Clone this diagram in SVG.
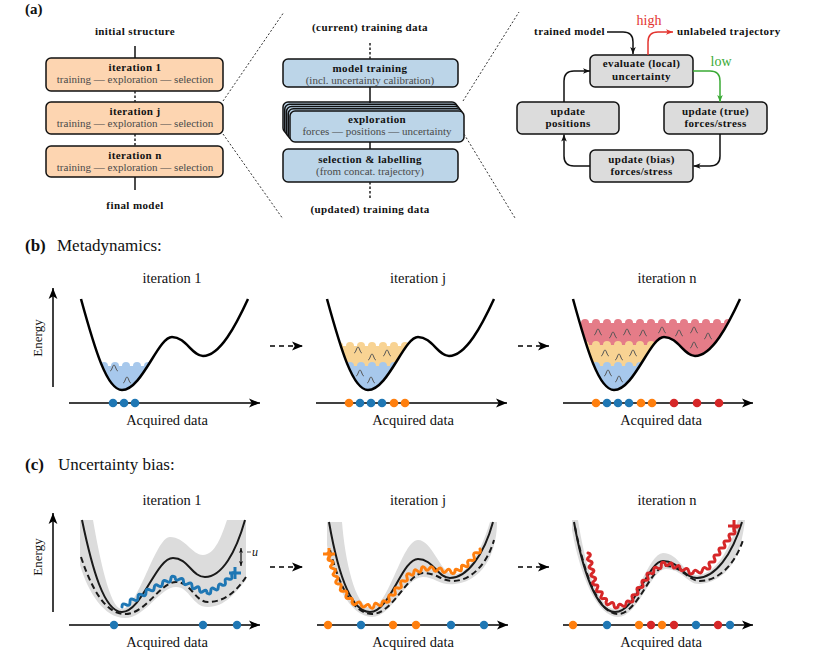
<svg xmlns="http://www.w3.org/2000/svg" width="831" height="652" viewBox="0 0 831 652" font-family="'Liberation Serif', 'Times New Roman', serif">
<style>
text{font-family:"Liberation Serif","Times New Roman",serif;fill:#111}
.hb{font-weight:bold;font-size:11px;letter-spacing:0.4px}
.sub{font-size:11px;fill:#4a4a4a}
.box{stroke:#111;stroke-width:1.5}
.orange{fill:#fdd5b1}
.blue{fill:#bcd5e8}
.gray{fill:#dcdcdc}
.conn{fill:none;stroke:#111;stroke-width:1.5}
.dotl{fill:none;stroke:#222;stroke-width:1.5;stroke-dasharray:2.5 2}
.zoom{fill:none;stroke:#333;stroke-width:1;stroke-dasharray:2 2}
.secb{font-size:17px;font-weight:bold}
.sec{font-size:17px}
.lbl{font-size:14.5px}
.pes{fill:none;stroke:#000;stroke-width:2.5;stroke-linejoin:round}
.sol{fill:none;stroke:#1a1a1a;stroke-width:2}
.dash{fill:none;stroke:#1a1a1a;stroke-width:2;stroke-dasharray:6 3.5}
.band{fill:#dcdcdc}
.axis{fill:none;stroke:#000;stroke-width:1.5}
.darr{fill:none;stroke:#000;stroke-width:1.5;stroke-dasharray:5 4}
.wig{fill:none;stroke-width:3;stroke-linejoin:round;stroke-linecap:round}
.gs{fill:none;stroke:#555;stroke-width:1}
.cb{fill:#1f77b4}.co{fill:#ff7f0e}.cr{fill:#d62728}
.fb{fill:#a7c8ec}.fo{fill:#f8d393}.fr{fill:#e57c88}
</style>
<defs>
<marker id="ah" viewBox="0 0 10 10" refX="10" refY="5" markerWidth="7" markerHeight="7" markerUnits="userSpaceOnUse" orient="auto-start-reverse"><path d="M0,1 L10,5 L0,9 L2.5,5 Z" fill="#111"/></marker>
<marker id="ahr" viewBox="0 0 10 10" refX="10" refY="5" markerWidth="7" markerHeight="7" markerUnits="userSpaceOnUse" orient="auto"><path d="M0,1 L10,5 L0,9 L2.5,5 Z" fill="#e3342f"/></marker>
<marker id="ahg" viewBox="0 0 10 10" refX="10" refY="5" markerWidth="7" markerHeight="7" markerUnits="userSpaceOnUse" orient="auto"><path d="M0,1 L10,5 L0,9 L2.5,5 Z" fill="#3aaa35"/></marker>
<marker id="ax" viewBox="0 0 10 10" refX="10" refY="5" markerWidth="11" markerHeight="11" markerUnits="userSpaceOnUse" orient="auto"><path d="M0,1 L10,5 L0,9 L2.5,5 Z" fill="#000"/></marker>
<marker id="us" viewBox="0 0 10 10" refX="10" refY="5" markerWidth="5" markerHeight="5" markerUnits="userSpaceOnUse" orient="auto-start-reverse"><path d="M0,1 L10,5 L0,9 L2.5,5 Z" fill="#111"/></marker>
<clipPath id="well" clipPathUnits="userSpaceOnUse"><path d="M81,299 C95,350 107,390 122,390 C142,390 158,337 172,337 C186,337 192,356 203,356 C220,356 236,325 248,299 Z"/></clipPath>
<path id="pes" d="M81,299 C95,350 107,390 122,390 C142,390 158,337 172,337 C186,337 192,356 203,356 C220,356 236,325 248,299"/>
<path id="gsn" d="M-4,3 C-2,3 -1.5,-3 0,-3 C1.5,-3 2,3 4,3"/>
</defs>

<!-- ===== (a) ===== -->
<text x="25" y="14" style="font-size:15px;font-weight:bold">(a)</text>
<g id="a-labels">
<text class="hb" x="135" y="35" text-anchor="middle">initial structure</text>
<text class="hb" x="135" y="209" text-anchor="middle">final model</text>
<text class="hb" x="370" y="31" text-anchor="middle">(current) training data</text>
<text class="hb" x="370" y="213" text-anchor="middle">(updated) training data</text>
<text class="hb" x="605" y="35" text-anchor="end">trained model</text>
<text class="hb" x="677" y="35">unlabeled trajectory</text>
<text x="649" y="25" text-anchor="middle" style="font-size:14px;fill:#e3342f">high</text>
<text x="721" y="66" text-anchor="middle" style="font-size:14px;fill:#3aaa35">low</text>
</g>

<g id="iter1">
<rect class="box orange" x="46" y="58" width="177" height="33" rx="5"/>
<text class="hb" x="135" y="71" text-anchor="middle">iteration 1</text>
<text class="sub" x="135" y="83" text-anchor="middle">training — exploration — selection</text>
</g>
<g id="iterj">
<rect class="box orange" x="46" y="102" width="177" height="32" rx="5"/>
<text class="hb" x="135" y="115" text-anchor="middle">iteration j</text>
<text class="sub" x="135" y="127" text-anchor="middle">training — exploration — selection</text>
</g>
<g id="itern">
<rect class="box orange" x="46" y="146" width="177" height="31" rx="5"/>
<text class="hb" x="135" y="158.5" text-anchor="middle">iteration n</text>
<text class="sub" x="135" y="170.5" text-anchor="middle">training — exploration — selection</text>
</g>

<g id="model-training">
<rect class="box blue" x="283" y="59" width="175" height="28" rx="5"/>
<text class="hb" x="370" y="72" text-anchor="middle">model training</text>
<text class="sub" x="370" y="84" text-anchor="middle">(incl. uncertainty calibration)</text>
</g>
<g id="exploration">
<rect class="box blue" x="283" y="102" width="174" height="31" rx="5"/>
<rect class="box blue" x="284.75" y="104.25" width="174" height="31" rx="5"/>
<rect class="box blue" x="286.5" y="106.5" width="174" height="31" rx="5"/>
<rect class="box blue" x="288.25" y="108.75" width="174" height="31" rx="5"/>
<rect class="box blue" x="290" y="111" width="174" height="31" rx="5"/>
<text class="hb" x="377" y="123" text-anchor="middle">exploration</text>
<text class="sub" x="377" y="135" text-anchor="middle">forces — positions — uncertainty</text>
</g>
<g id="selection">
<rect class="box blue" x="283" y="149" width="175" height="33" rx="5"/>
<text class="hb" x="370" y="163" text-anchor="middle">selection &amp; labelling</text>
<text class="sub" x="370" y="175" text-anchor="middle">(from concat. trajectory)</text>
</g>

<g id="evaluate">
<rect class="box gray" x="590" y="55" width="103" height="32" rx="5"/>
<text class="hb" x="641.5" y="67" text-anchor="middle">evaluate (local)</text>
<text class="hb" x="641.5" y="80" text-anchor="middle">uncertainty</text>
</g>
<g id="update-true">
<rect class="box gray" x="664" y="102" width="103" height="32" rx="5"/>
<text class="hb" x="715.5" y="115" text-anchor="middle">update (true)</text>
<text class="hb" x="715.5" y="127" text-anchor="middle">forces/stress</text>
</g>
<g id="update-bias">
<rect class="box gray" x="590" y="150" width="103" height="32" rx="5"/>
<text class="hb" x="641.5" y="162.5" text-anchor="middle">update (bias)</text>
<text class="hb" x="641.5" y="174.5" text-anchor="middle">forces/stress</text>
</g>
<g id="update-positions">
<rect class="box gray" x="517" y="102" width="102" height="32" rx="5"/>
<text class="hb" x="568" y="115" text-anchor="middle">update</text>
<text class="hb" x="568" y="127" text-anchor="middle">positions</text>
</g>

<g id="connectors">
<path class="conn" d="M135,46 V58"/>
<path class="dotl" d="M135,91 V102"/>
<path class="dotl" d="M135,134 V146"/>
<path class="conn" d="M135,177 V190"/>
<path class="dotl" d="M370,43 V59"/>
<path class="conn" d="M370,87 V103"/>
<path class="conn" d="M370,142 V149"/>
<path class="dotl" d="M370,182 V200"/>
<path class="zoom" d="M223,101 L284,12"/>
<path class="zoom" d="M223,134 L283,219"/>
<path class="zoom" d="M463,101 L519,12"/>
<path class="zoom" d="M464,134 L515,218"/>
<path class="conn" d="M607,32 H623 Q633,32 633,42 V54" marker-end="url(#ah)"/>
<path d="M648,55 V42 Q648,32 658,32 H673" fill="none" stroke="#e3342f" stroke-width="1.5" marker-end="url(#ahr)"/>
<path d="M693,71 H710 Q720,71 720,81 V102" fill="none" stroke="#3aaa35" stroke-width="1.5" marker-end="url(#ahg)"/>
<path class="conn" d="M720,134 V156 Q720,166 710,166 H693.5" marker-end="url(#ah)"/>
<path class="conn" d="M590,166 H574 Q564,166 564,156 V134.5" marker-end="url(#ah)"/>
<path class="conn" d="M564,102 V81 Q564,71 574,71 H590" marker-end="url(#ah)"/>
<path class="darr" d="M270,346 H303" marker-end="url(#ax)"/>
<path class="darr" d="M518,346 H549" marker-end="url(#ax)"/>
<path class="darr" d="M270,567 H303" marker-end="url(#ax)"/>
<path class="darr" d="M518,567 H549" marker-end="url(#ax)"/>
</g>

<!-- ===== (b) ===== -->
<text class="secb" x="25" y="251">(b)</text>
<text class="sec" x="57" y="251">Metadynamics:</text>

<g id="b-iter1">
<text class="lbl" x="172" y="283" text-anchor="middle">iteration 1</text>
<g clip-path="url(#well)">
<rect class="fb" x="80" y="366" width="92" height="30"/>
<g class="fb"><circle cx="93" cy="366" r="4"/><circle cx="104" cy="366" r="4"/><circle cx="115" cy="366" r="4"/><circle cx="126" cy="366" r="4"/><circle cx="137" cy="366" r="4"/><circle cx="148" cy="366" r="4"/><circle cx="159" cy="366" r="4"/></g>
</g>
<use href="#gsn" class="gs" x="114" y="368"/><use href="#gsn" class="gs" x="127" y="380"/>
<use href="#pes" class="pes"/>
<path class="axis" d="M53,387 V288" marker-end="url(#ax)"/>
<path class="axis" d="M69,403 H260" marker-end="url(#ax)"/>
<text class="lbl" transform="translate(42,338) rotate(-90)" text-anchor="middle" style="font-size:13px">Energy</text>
<circle class="cb" cx="113" cy="403" r="4.3"/><circle class="cb" cx="124" cy="403" r="4.3"/><circle class="cb" cx="135" cy="403" r="4.3"/>
<text class="lbl" x="167" y="425" text-anchor="middle">Acquired data</text>
</g>

<g id="b-iterj">
<text class="lbl" x="418" y="283" text-anchor="middle">iteration j</text>
<g transform="translate(246,0)">
<g clip-path="url(#well)">
<rect class="fo" x="80" y="346" width="92" height="50"/>
<g class="fo"><circle cx="93" cy="346" r="4"/><circle cx="104" cy="346" r="4"/><circle cx="115" cy="346" r="4"/><circle cx="126" cy="346" r="4"/><circle cx="137" cy="346" r="4"/><circle cx="148" cy="346" r="4"/><circle cx="159" cy="346" r="4"/><circle cx="170" cy="346" r="4"/></g>
<rect class="fb" x="80" y="366" width="92" height="30"/>
<g class="fb"><circle cx="93" cy="366" r="4"/><circle cx="104" cy="366" r="4"/><circle cx="115" cy="366" r="4"/><circle cx="126" cy="366" r="4"/><circle cx="137" cy="366" r="4"/><circle cx="148" cy="366" r="4"/><circle cx="159" cy="366" r="4"/></g>
</g>
<use href="#gsn" class="gs" x="112" y="350"/><use href="#gsn" class="gs" x="126" y="357"/><use href="#gsn" class="gs" x="141" y="353"/>
<use href="#gsn" class="gs" x="114" y="373"/><use href="#gsn" class="gs" x="125" y="380"/>
<use href="#pes" class="pes"/>
</g>
<path class="axis" d="M316,403 H507" marker-end="url(#ax)"/>
<circle class="co" cx="349" cy="403" r="4.3"/><circle class="cb" cx="360" cy="403" r="4.3"/><circle class="cb" cx="371" cy="403" r="4.3"/><circle class="cb" cx="382" cy="403" r="4.3"/><circle class="co" cx="394" cy="403" r="4.3"/><circle class="co" cx="405" cy="403" r="4.3"/>
<text class="lbl" x="413" y="425" text-anchor="middle">Acquired data</text>
</g>

<g id="b-itern">
<text class="lbl" x="667" y="283" text-anchor="middle">iteration n</text>
<g transform="translate(492,0)">
<g clip-path="url(#well)">
<rect class="fr" x="80" y="323" width="170" height="80"/>
<g class="fr"><circle cx="82" cy="323" r="4"/><circle cx="93" cy="323" r="4"/><circle cx="104" cy="323" r="4"/><circle cx="115" cy="323" r="4"/><circle cx="126" cy="323" r="4"/><circle cx="137" cy="323" r="4"/><circle cx="148" cy="323" r="4"/><circle cx="159" cy="323" r="4"/><circle cx="170" cy="323" r="4"/><circle cx="181" cy="323" r="4"/><circle cx="192" cy="323" r="4"/><circle cx="203" cy="323" r="4"/><circle cx="214" cy="323" r="4"/><circle cx="225" cy="323" r="4"/><circle cx="236" cy="323" r="4"/></g>
<rect class="fo" x="80" y="345" width="92" height="50"/>
<g class="fo"><circle cx="93" cy="345" r="4"/><circle cx="104" cy="345" r="4"/><circle cx="115" cy="345" r="4"/><circle cx="126" cy="345" r="4"/><circle cx="137" cy="345" r="4"/><circle cx="148" cy="345" r="4"/><circle cx="159" cy="345" r="4"/><circle cx="170" cy="345" r="4"/></g>
<rect class="fb" x="80" y="366" width="92" height="30"/>
<g class="fb"><circle cx="93" cy="366" r="4"/><circle cx="104" cy="366" r="4"/><circle cx="115" cy="366" r="4"/><circle cx="126" cy="366" r="4"/><circle cx="137" cy="366" r="4"/><circle cx="148" cy="366" r="4"/><circle cx="159" cy="366" r="4"/></g>
</g>
<use href="#gsn" class="gs" x="106" y="332"/><use href="#gsn" class="gs" x="121" y="335"/><use href="#gsn" class="gs" x="135" y="332"/><use href="#gsn" class="gs" x="151" y="333"/><use href="#gsn" class="gs" x="170" y="330"/><use href="#gsn" class="gs" x="187" y="333"/><use href="#gsn" class="gs" x="202" y="330"/><use href="#gsn" class="gs" x="216" y="336"/><use href="#gsn" class="gs" x="202" y="345"/>
<use href="#gsn" class="gs" x="113" y="353"/><use href="#gsn" class="gs" x="127" y="357"/><use href="#gsn" class="gs" x="141" y="353"/>
<use href="#gsn" class="gs" x="116" y="373"/><use href="#gsn" class="gs" x="127" y="379"/>
<use href="#pes" class="pes"/>
</g>
<path class="axis" d="M563,403 H753" marker-end="url(#ax)"/>
<circle class="co" cx="596" cy="403" r="4.3"/><circle class="cb" cx="607" cy="403" r="4.3"/><circle class="cb" cx="618" cy="403" r="4.3"/><circle class="cb" cx="629" cy="403" r="4.3"/><circle class="co" cx="641" cy="403" r="4.3"/><circle class="co" cx="652" cy="403" r="4.3"/><circle class="cr" cx="674" cy="403" r="4.3"/><circle class="cr" cx="697" cy="403" r="4.3"/><circle class="cr" cx="719" cy="403" r="4.3"/>
<text class="lbl" x="661" y="425" text-anchor="middle">Acquired data</text>
</g>

<!-- ===== (c) ===== -->
<text class="secb" x="25" y="470">(c)</text>
<text class="sec" x="58" y="470">Uncertainty bias:</text>

<g id="c-iter1">
<text class="lbl" x="172" y="505" text-anchor="middle">iteration 1</text>
<path class="band" d="M80,520 L93,520 C100,560 110,607 121,609 C138,611 155,537 170,537 C185,537 192,555 203,555 C215,555 222,535 227,520 L246,520 L246,580 C236,592 225,607 208,607 C192,607 190,587 176,587 C160,587 145,618 125,618 C104,618 88,592 80,565 Z"/>
<path class="sol" d="M82,520 C92,568 104,612 122,612 C142,612 156,558 173,558 C188,558 192,577 205,577 C222,577 236,552 245,520"/>
<path class="dash" d="M81,557 C92,590 106,614 125,614 C146,614 160,582 176,582 C191,582 195,602 208,602 C224,602 236,592 246,577"/>
<path class="wig" stroke="#1f77b4" d="M122,607 Q121.9,602.4 126,604.6 T130,602.1 T134,599.7 T138,597.3 T142,594.9 T146,592.4 T150,590 Q153.9,592.4 154.2,587.8 T158.3,585.7 T162.5,583.5 T166.7,581.3 T170.8,579.2 T175,577 Q175.3,581.7 179.3,579.3 T183.5,581.5 T187.8,583.8 T192,586 Q192.2,590.5 195.8,587.8 T199.5,589.5 T203.3,591.3 T207,593 Q210.8,595.5 210.8,591 T214.5,589 T218.3,587 T222,585 Q226.3,586.4 225.3,582 T228.5,579 T231.8,576 T235,573"/>
<path d="M235,567 V579 M229,573 H241" stroke="#1f77b4" stroke-width="3"/>
<path d="M241,548 V566" fill="none" stroke="#111" stroke-width="1.2" marker-start="url(#us)" marker-end="url(#us)"/>
<path d="M247,552 H251" stroke="#333" stroke-width="0.8"/>
<text x="252" y="556" style="font-size:12px;font-style:italic">u</text>
<path class="axis" d="M53,612 V513" marker-end="url(#ax)"/>
<path class="axis" d="M69,625 H260" marker-end="url(#ax)"/>
<text class="lbl" transform="translate(42,557) rotate(-90)" text-anchor="middle" style="font-size:13px">Energy</text>
<circle class="cb" cx="114" cy="625" r="4.2"/><circle class="cb" cx="203" cy="625" r="4.2"/><circle class="cb" cx="237" cy="625" r="4.2"/>
<text class="lbl" x="167" y="647" text-anchor="middle">Acquired data</text>
</g>

<g id="c-iterj">
<text class="lbl" x="418" y="505" text-anchor="middle">iteration j</text>
<path class="band" d="M327,522 L342,522 C345,560 355,606 370,608 C388,610 402,540 418,540 C432,540 440,572 452,574 C466,576 480,555 490,522 L497,522 C497,545 488,580 455,584 C440,586 435,577 423,577 C405,577 392,617 372,617 C350,617 332,580 327,545 Z"/>
<path class="sol" d="M329,522 C337,568 350,612 370,612 C390,612 402,559 418,559 C433,559 438,578 450,578 C467,578 484,555 493,522"/>
<path class="dash" d="M330,550 C338,582 352,614 372,614 C393,614 408,573 423,573 C437,573 441,581 453,581 C470,581 487,565 494,540"/>
<path class="wig" stroke="#ff7f0e" d="M328,553 Q332.4,553.7 329.3,556.9 T330.5,560.8 T331.8,564.6 T333,568.5 T334.3,572.4 T335.5,576.3 T336.8,580.1 T338,584 Q342.6,583.3 340.8,587.6 T343.6,591.2 T346.4,594.8 T349.2,598.4 T352,602 Q353.2,606.5 356.5,603.3 T361,604.5 T365.5,605.8 T370,607 Q373.2,610.2 374,605.8 T378,604.5 T382,603.3 T386,602 Q390.5,602.9 389,598.5 T392,595 T395,591.5 T398,588 T401,584.5 T404,581 T407,577.5 T410,574 Q413.4,577 413.8,572.5 T417.5,571 T421.3,569.5 T425,568 Q426.6,572.3 429.3,568.6 T433.6,569.1 T437.9,569.7 T442.1,570.3 T446.4,570.9 T450.7,571.4 T455,572 Q454.5,567.6 458.3,570 T461.5,568 T464.8,566 T468,564 Q466.4,559.6 471,560.3 T474,556.5 T477,552.8 T480,549"/>
<path d="M329,548 V560 M323,554 H335" stroke="#ff7f0e" stroke-width="3"/>
<path class="axis" d="M317,625 H508" marker-end="url(#ax)"/>
<circle class="co" cx="328" cy="625" r="4.2"/><circle class="cb" cx="361" cy="625" r="4.2"/><circle class="co" cx="393" cy="625" r="4.2"/><circle class="co" cx="416" cy="625" r="4.2"/><circle class="cb" cx="451" cy="625" r="4.2"/><circle class="cb" cx="484" cy="625" r="4.2"/>
<text class="lbl" x="413" y="647" text-anchor="middle">Acquired data</text>
</g>

<g id="c-itern">
<text class="lbl" x="667" y="505" text-anchor="middle">iteration n</text>
<path class="band" d="M572,520 L578,520 C585,565 598,609 615,609 C636,609 648,553 663,553 C679,553 684,575 697,575 C715,575 730,550 738,520 L745,520 C742,545 735,580 700,584 C688,585 682,569 666,569 C651,569 638,617 618,617 C597,617 580,575 572,530 Z"/>
<path class="sol" d="M574,522 C582,568 596,612 615,612 C636,612 648,561 663,561 C679,561 684,578 697,578 C715,578 732,555 742,522"/>
<path class="dash" d="M575,527 C584,572 598,614 618,614 C638,614 651,566 666,566 C682,566 688,581 700,581 C718,581 735,565 743,540"/>
<path class="wig" stroke="#d62728" d="M588,553 Q592.3,554.2 588.9,557 T589.8,561 T590.6,565 T591.5,569 T592.4,573 T593.3,577 T594.1,581 T595,585 Q599.5,584.5 597.2,588.4 T599.4,591.8 T601.6,595.2 T603.8,598.6 T606,602 Q606.5,606.5 610,603.7 T614,605.3 T618,607 Q618.5,602.5 622,605.3 T626,603.7 T630,602 Q634.5,602.5 632.5,598.4 T635,594.8 T637.5,591.1 T640,587.5 T642.5,583.9 T645,580.3 T647.5,576.6 T650,573 Q654.1,575.1 653.8,570.5 T657.5,568 T661.3,565.5 T665,563 Q665.6,567.4 668.8,564.3 T672.5,565.5 T676.3,566.8 T680,568 Q680.7,572.6 684.3,569.7 T688.7,571.3 T693,573 Q694.2,568.5 697.7,571.7 T702.3,570.3 T707,569 Q711.5,569.6 709.5,565.5 T712,562 T714.5,558.5 T717,555 T719.5,551.5 T722,548 T724.5,544.5 T727,541 T729.5,537.5 T732,534 T734.5,530.5 T737,527"/>
<path d="M734,520 V532 M728,526 H740" stroke="#d62728" stroke-width="3"/>
<path class="axis" d="M563,625 H753" marker-end="url(#ax)"/>
<circle class="co" cx="573" cy="625" r="4.2"/><circle class="cb" cx="607" cy="625" r="4.2"/><circle class="co" cx="639" cy="625" r="4.2"/><circle class="cr" cx="651" cy="625" r="4.2"/><circle class="co" cx="662" cy="625" r="4.2"/><circle class="cr" cx="674" cy="625" r="4.2"/><circle class="cb" cx="696" cy="625" r="4.2"/><circle class="cr" cx="718" cy="625" r="4.2"/><circle class="cb" cx="730" cy="625" r="4.2"/>
<text class="lbl" x="661" y="647" text-anchor="middle">Acquired data</text>
</g>
</svg>
